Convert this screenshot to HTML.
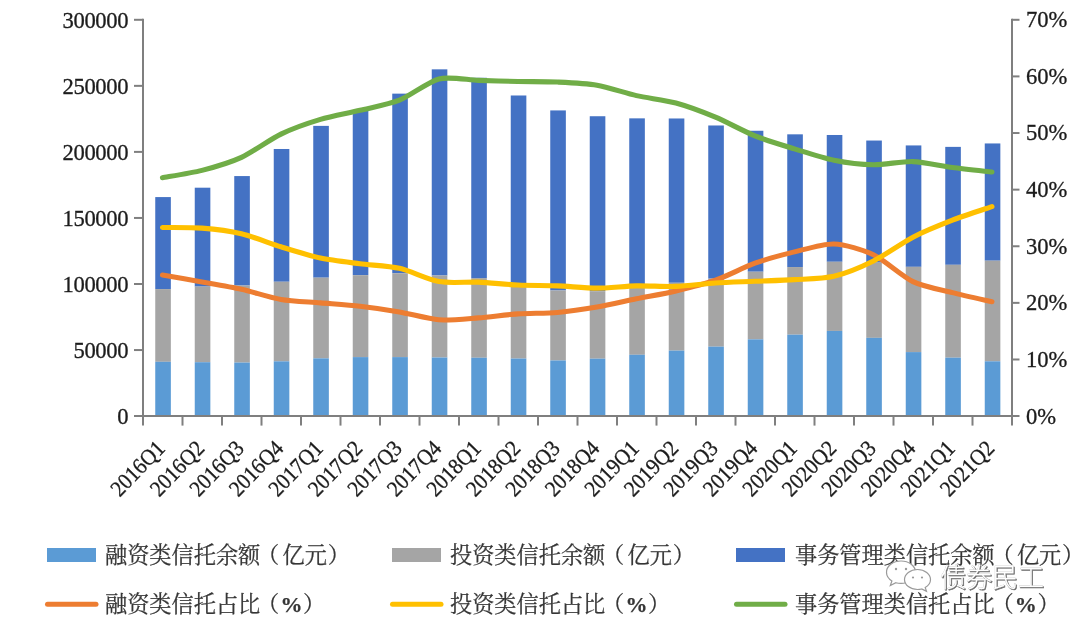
<!DOCTYPE html>
<html lang="zh-CN"><head><meta charset="utf-8"><title>信托资产余额及占比</title>
<style>html,body{margin:0;padding:0;background:#fff;}body{width:1080px;height:626px;position:relative;overflow:hidden;}</style>
</head><body>
<svg width="1080" height="626" viewBox="0 0 1080 626" style="position:absolute;left:0;top:0">
<rect x="155.25" y="197.08" width="15.6" height="91.99" fill="#4472c4"/>
<rect x="155.25" y="289.07" width="15.6" height="72.72" fill="#a5a5a5"/>
<rect x="155.25" y="361.78" width="15.6" height="54.32" fill="#5b9bd5"/>
<rect x="194.75" y="187.70" width="15.6" height="98.90" fill="#4472c4"/>
<rect x="194.75" y="286.60" width="15.6" height="75.60" fill="#a5a5a5"/>
<rect x="194.75" y="362.20" width="15.6" height="53.90" fill="#5b9bd5"/>
<rect x="234.25" y="176.07" width="15.6" height="109.45" fill="#4472c4"/>
<rect x="234.25" y="285.53" width="15.6" height="77.05" fill="#a5a5a5"/>
<rect x="234.25" y="362.57" width="15.6" height="53.53" fill="#5b9bd5"/>
<rect x="273.75" y="148.99" width="15.6" height="132.75" fill="#4472c4"/>
<rect x="273.75" y="281.75" width="15.6" height="79.60" fill="#a5a5a5"/>
<rect x="273.75" y="361.34" width="15.6" height="54.76" fill="#5b9bd5"/>
<rect x="313.25" y="125.88" width="15.6" height="151.79" fill="#4472c4"/>
<rect x="313.25" y="277.66" width="15.6" height="80.68" fill="#a5a5a5"/>
<rect x="313.25" y="358.35" width="15.6" height="57.75" fill="#5b9bd5"/>
<rect x="352.75" y="110.42" width="15.6" height="164.76" fill="#4472c4"/>
<rect x="352.75" y="275.18" width="15.6" height="81.92" fill="#a5a5a5"/>
<rect x="352.75" y="357.10" width="15.6" height="59.00" fill="#5b9bd5"/>
<rect x="392.25" y="93.64" width="15.6" height="179.61" fill="#4472c4"/>
<rect x="392.25" y="273.25" width="15.6" height="83.84" fill="#a5a5a5"/>
<rect x="392.25" y="357.09" width="15.6" height="59.01" fill="#5b9bd5"/>
<rect x="431.75" y="69.34" width="15.6" height="206.15" fill="#4472c4"/>
<rect x="431.75" y="275.49" width="15.6" height="82.01" fill="#a5a5a5"/>
<rect x="431.75" y="357.50" width="15.6" height="58.60" fill="#5b9bd5"/>
<rect x="471.25" y="77.79" width="15.6" height="200.28" fill="#4472c4"/>
<rect x="471.25" y="278.07" width="15.6" height="79.67" fill="#a5a5a5"/>
<rect x="471.25" y="357.74" width="15.6" height="58.36" fill="#5b9bd5"/>
<rect x="510.75" y="95.49" width="15.6" height="189.16" fill="#4472c4"/>
<rect x="510.75" y="284.65" width="15.6" height="73.90" fill="#a5a5a5"/>
<rect x="510.75" y="358.55" width="15.6" height="57.55" fill="#5b9bd5"/>
<rect x="550.25" y="110.42" width="15.6" height="180.05" fill="#4472c4"/>
<rect x="550.25" y="290.47" width="15.6" height="70.00" fill="#a5a5a5"/>
<rect x="550.25" y="360.47" width="15.6" height="55.63" fill="#5b9bd5"/>
<rect x="589.75" y="116.23" width="15.6" height="174.97" fill="#4472c4"/>
<rect x="589.75" y="291.21" width="15.6" height="67.47" fill="#a5a5a5"/>
<rect x="589.75" y="358.68" width="15.6" height="57.42" fill="#5b9bd5"/>
<rect x="629.25" y="118.35" width="15.6" height="168.23" fill="#4472c4"/>
<rect x="629.25" y="286.58" width="15.6" height="68.19" fill="#a5a5a5"/>
<rect x="629.25" y="354.76" width="15.6" height="61.34" fill="#5b9bd5"/>
<rect x="668.75" y="118.48" width="15.6" height="164.29" fill="#4472c4"/>
<rect x="668.75" y="282.77" width="15.6" height="67.86" fill="#a5a5a5"/>
<rect x="668.75" y="350.62" width="15.6" height="65.48" fill="#5b9bd5"/>
<rect x="708.25" y="125.48" width="15.6" height="153.16" fill="#4472c4"/>
<rect x="708.25" y="278.64" width="15.6" height="68.01" fill="#a5a5a5"/>
<rect x="708.25" y="346.64" width="15.6" height="69.46" fill="#5b9bd5"/>
<rect x="747.75" y="130.76" width="15.6" height="140.96" fill="#4472c4"/>
<rect x="747.75" y="271.72" width="15.6" height="67.62" fill="#a5a5a5"/>
<rect x="747.75" y="339.34" width="15.6" height="76.76" fill="#5b9bd5"/>
<rect x="787.25" y="134.33" width="15.6" height="132.71" fill="#4472c4"/>
<rect x="787.25" y="267.04" width="15.6" height="67.62" fill="#a5a5a5"/>
<rect x="787.25" y="334.67" width="15.6" height="81.43" fill="#5b9bd5"/>
<rect x="826.75" y="134.99" width="15.6" height="126.78" fill="#4472c4"/>
<rect x="826.75" y="261.77" width="15.6" height="69.15" fill="#a5a5a5"/>
<rect x="826.75" y="330.92" width="15.6" height="85.18" fill="#5b9bd5"/>
<rect x="866.25" y="140.54" width="15.6" height="122.07" fill="#4472c4"/>
<rect x="866.25" y="262.61" width="15.6" height="75.23" fill="#a5a5a5"/>
<rect x="866.25" y="337.84" width="15.6" height="78.26" fill="#5b9bd5"/>
<rect x="905.75" y="145.43" width="15.6" height="121.40" fill="#4472c4"/>
<rect x="905.75" y="266.82" width="15.6" height="85.26" fill="#a5a5a5"/>
<rect x="905.75" y="352.09" width="15.6" height="64.01" fill="#5b9bd5"/>
<rect x="945.25" y="146.88" width="15.6" height="117.92" fill="#4472c4"/>
<rect x="945.25" y="264.80" width="15.6" height="92.88" fill="#a5a5a5"/>
<rect x="945.25" y="357.68" width="15.6" height="58.42" fill="#5b9bd5"/>
<rect x="984.75" y="143.45" width="15.6" height="117.24" fill="#4472c4"/>
<rect x="984.75" y="260.69" width="15.6" height="100.61" fill="#a5a5a5"/>
<rect x="984.75" y="361.30" width="15.6" height="54.80" fill="#5b9bd5"/>
<g stroke="#7f7f7f" stroke-width="2" fill="none">
<path d="M143.0,18.8 V417.1"/>
<path d="M1012.0,18.8 V417.1"/>
<path d="M134.0,416.1 H1019.5"/>
<path d="M134.0,350.05 H143.0"/>
<path d="M134.0,284.00 H143.0"/>
<path d="M134.0,217.95 H143.0"/>
<path d="M134.0,151.90 H143.0"/>
<path d="M134.0,85.85 H143.0"/>
<path d="M134.0,19.80 H143.0"/>
<path d="M1012.0,359.49 H1019.5"/>
<path d="M1012.0,302.87 H1019.5"/>
<path d="M1012.0,246.26 H1019.5"/>
<path d="M1012.0,189.64 H1019.5"/>
<path d="M1012.0,133.03 H1019.5"/>
<path d="M1012.0,76.41 H1019.5"/>
<path d="M1012.0,19.80 H1019.5"/>
<path d="M143.00,416.1 V425.6"/>
<path d="M182.50,416.1 V425.6"/>
<path d="M222.00,416.1 V425.6"/>
<path d="M261.50,416.1 V425.6"/>
<path d="M301.00,416.1 V425.6"/>
<path d="M340.50,416.1 V425.6"/>
<path d="M380.00,416.1 V425.6"/>
<path d="M419.50,416.1 V425.6"/>
<path d="M459.00,416.1 V425.6"/>
<path d="M498.50,416.1 V425.6"/>
<path d="M538.00,416.1 V425.6"/>
<path d="M577.50,416.1 V425.6"/>
<path d="M617.00,416.1 V425.6"/>
<path d="M656.50,416.1 V425.6"/>
<path d="M696.00,416.1 V425.6"/>
<path d="M735.50,416.1 V425.6"/>
<path d="M775.00,416.1 V425.6"/>
<path d="M814.50,416.1 V425.6"/>
<path d="M854.00,416.1 V425.6"/>
<path d="M893.50,416.1 V425.6"/>
<path d="M933.00,416.1 V425.6"/>
<path d="M972.50,416.1 V425.6"/>
<path d="M1012.00,416.1 V425.6"/>
</g>
<path d="M162.45,275.10 C167.72,276.00 191.42,280.00 201.95,281.89 C212.48,283.78 230.92,286.91 241.45,289.25 C251.98,291.59 270.42,297.63 280.95,299.44 C291.48,301.25 309.92,301.93 320.45,302.84 C330.98,303.74 349.42,305.03 359.95,306.23 C370.48,307.44 388.92,310.08 399.45,311.90 C409.98,313.71 428.42,319.03 438.95,319.82 C449.48,320.61 467.92,318.63 478.45,317.84 C488.98,317.05 507.42,314.59 517.95,313.88 C528.48,313.16 546.92,313.37 557.45,312.46 C567.98,311.56 586.42,308.90 596.95,307.08 C607.48,305.27 625.92,301.03 636.45,298.87 C646.98,296.72 665.42,293.44 675.95,290.95 C686.48,288.46 704.92,283.89 715.45,280.19 C725.98,276.49 744.42,266.98 754.95,263.21 C765.48,259.43 783.92,254.45 794.45,251.88 C804.98,249.32 823.42,243.58 833.95,243.96 C844.48,244.34 862.92,249.70 873.45,254.72 C883.98,259.74 902.42,276.55 912.95,281.61 C923.48,286.66 941.92,289.97 952.45,292.65 C962.98,295.33 986.68,300.50 991.95,301.71" fill="none" stroke="#ed7d31" stroke-width="5.1" stroke-linecap="round" stroke-linejoin="round"/>
<path d="M162.45,227.54 C167.72,227.62 191.42,227.28 201.95,228.11 C212.48,228.94 230.92,231.28 241.45,233.77 C251.98,236.26 270.42,243.54 280.95,246.79 C291.48,250.04 309.92,255.85 320.45,258.11 C330.98,260.38 349.42,262.41 359.95,263.77 C370.48,265.13 388.92,265.93 399.45,268.30 C409.98,270.68 428.42,279.76 438.95,281.61 C449.48,283.46 467.92,281.72 478.45,282.17 C488.98,282.63 507.42,284.51 517.95,285.00 C528.48,285.49 546.92,285.44 557.45,285.85 C567.98,286.27 586.42,288.12 596.95,288.12 C607.48,288.12 625.92,286.08 636.45,285.85 C646.98,285.63 665.42,286.80 675.95,286.42 C686.48,286.04 704.92,283.70 715.45,283.02 C725.98,282.34 744.42,281.78 754.95,281.32 C765.48,280.87 783.92,280.31 794.45,279.63 C804.98,278.95 823.42,278.72 833.95,276.23 C844.48,273.74 862.92,266.15 873.45,260.94 C883.98,255.73 902.42,242.60 912.95,237.17 C923.48,231.73 941.92,224.26 952.45,220.18 C962.98,216.10 986.68,208.40 991.95,206.59" fill="none" stroke="#ffc000" stroke-width="5.1" stroke-linecap="round" stroke-linejoin="round"/>
<path d="M162.45,177.72 C167.72,176.74 191.42,173.08 201.95,170.36 C212.48,167.64 230.92,162.17 241.45,157.34 C251.98,152.51 270.42,139.18 280.95,134.13 C291.48,129.07 309.92,122.58 320.45,119.41 C330.98,116.24 349.42,112.92 359.95,110.35 C370.48,107.78 388.92,104.35 399.45,100.16 C409.98,95.97 428.42,81.57 438.95,78.93 C449.48,76.29 467.92,80.00 478.45,80.34 C488.98,80.68 507.42,81.25 517.95,81.48 C528.48,81.70 546.92,81.55 557.45,82.04 C567.98,82.53 586.42,83.34 596.95,85.16 C607.48,86.97 625.92,93.25 636.45,95.63 C646.98,98.01 665.42,100.12 675.95,102.99 C686.48,105.86 704.92,112.76 715.45,117.14 C725.98,121.52 744.42,131.60 754.95,135.83 C765.48,140.05 783.92,145.60 794.45,148.85 C804.98,152.09 823.42,158.06 833.95,160.17 C844.48,162.28 862.92,164.51 873.45,164.70 C883.98,164.89 902.42,161.21 912.95,161.58 C923.48,161.96 941.92,166.13 952.45,167.53 C962.98,168.93 986.68,171.45 991.95,172.06" fill="none" stroke="#70ad47" stroke-width="5.1" stroke-linecap="round" stroke-linejoin="round"/>
<g font-family="'Liberation Serif', serif" font-size="22.6" fill="#1c1c1c" stroke="#1c1c1c" stroke-width="0.3">
<text x="128.2" y="423.80" text-anchor="end" letter-spacing="-0.35">0</text>
<text x="128.2" y="357.75" text-anchor="end" letter-spacing="-0.35">50000</text>
<text x="128.2" y="291.70" text-anchor="end" letter-spacing="-0.35">100000</text>
<text x="128.2" y="225.65" text-anchor="end" letter-spacing="-0.35">150000</text>
<text x="128.2" y="159.60" text-anchor="end" letter-spacing="-0.35">200000</text>
<text x="128.2" y="93.55" text-anchor="end" letter-spacing="-0.35">250000</text>
<text x="128.2" y="27.50" text-anchor="end" letter-spacing="-0.35">300000</text>
<text x="1026.0" y="423.50">0%</text>
<text x="1026.0" y="366.89">10%</text>
<text x="1026.0" y="310.27">20%</text>
<text x="1026.0" y="253.66">30%</text>
<text x="1026.0" y="197.04">40%</text>
<text x="1026.0" y="140.43">50%</text>
<text x="1026.0" y="83.81">60%</text>
<text x="1026.0" y="27.20">70%</text>
<text transform="translate(166.15,449.6) rotate(-46) scale(0.92,1)" text-anchor="end" x="0" y="0">2016Q1</text>
<text transform="translate(205.65,449.6) rotate(-46) scale(0.92,1)" text-anchor="end" x="0" y="0">2016Q2</text>
<text transform="translate(245.15,449.6) rotate(-46) scale(0.92,1)" text-anchor="end" x="0" y="0">2016Q3</text>
<text transform="translate(284.65,449.6) rotate(-46) scale(0.92,1)" text-anchor="end" x="0" y="0">2016Q4</text>
<text transform="translate(324.15,449.6) rotate(-46) scale(0.92,1)" text-anchor="end" x="0" y="0">2017Q1</text>
<text transform="translate(363.65,449.6) rotate(-46) scale(0.92,1)" text-anchor="end" x="0" y="0">2017Q2</text>
<text transform="translate(403.15,449.6) rotate(-46) scale(0.92,1)" text-anchor="end" x="0" y="0">2017Q3</text>
<text transform="translate(442.65,449.6) rotate(-46) scale(0.92,1)" text-anchor="end" x="0" y="0">2017Q4</text>
<text transform="translate(482.15,449.6) rotate(-46) scale(0.92,1)" text-anchor="end" x="0" y="0">2018Q1</text>
<text transform="translate(521.65,449.6) rotate(-46) scale(0.92,1)" text-anchor="end" x="0" y="0">2018Q2</text>
<text transform="translate(561.15,449.6) rotate(-46) scale(0.92,1)" text-anchor="end" x="0" y="0">2018Q3</text>
<text transform="translate(600.65,449.6) rotate(-46) scale(0.92,1)" text-anchor="end" x="0" y="0">2018Q4</text>
<text transform="translate(640.15,449.6) rotate(-46) scale(0.92,1)" text-anchor="end" x="0" y="0">2019Q1</text>
<text transform="translate(679.65,449.6) rotate(-46) scale(0.92,1)" text-anchor="end" x="0" y="0">2019Q2</text>
<text transform="translate(719.15,449.6) rotate(-46) scale(0.92,1)" text-anchor="end" x="0" y="0">2019Q3</text>
<text transform="translate(758.65,449.6) rotate(-46) scale(0.92,1)" text-anchor="end" x="0" y="0">2019Q4</text>
<text transform="translate(798.15,449.6) rotate(-46) scale(0.92,1)" text-anchor="end" x="0" y="0">2020Q1</text>
<text transform="translate(837.65,449.6) rotate(-46) scale(0.92,1)" text-anchor="end" x="0" y="0">2020Q2</text>
<text transform="translate(877.15,449.6) rotate(-46) scale(0.92,1)" text-anchor="end" x="0" y="0">2020Q3</text>
<text transform="translate(916.65,449.6) rotate(-46) scale(0.92,1)" text-anchor="end" x="0" y="0">2020Q4</text>
<text transform="translate(956.15,449.6) rotate(-46) scale(0.92,1)" text-anchor="end" x="0" y="0">2021Q1</text>
<text transform="translate(995.65,449.6) rotate(-46) scale(0.92,1)" text-anchor="end" x="0" y="0">2021Q2</text>
</g>
<rect x="47" y="548" width="49" height="14" fill="#5b9bd5"/>
<path d="M47.5,604.3 H96" stroke="#ed7d31" stroke-width="5" stroke-linecap="round"/>
<text x="105" y="562.6" font-family="'Liberation Serif','Noto Serif CJK SC',serif" font-size="22.2" fill="#363636" stroke="#363636" stroke-width="0.25">融资类信托余额<tspan dx="-3.3">（</tspan><tspan dx="3.3">亿元</tspan><tspan dx="0.8">）</tspan></text>
<text x="105" y="611.6" font-family="'Liberation Serif','Noto Serif CJK SC',serif" font-size="22.2" fill="#363636" stroke="#363636" stroke-width="0.25">融资类信托占比<tspan dx="-3.3">（</tspan><tspan dx="1.2" font-family="'Liberation Serif',serif" font-weight="bold" font-size="22">%</tspan><tspan dx="0.7">）</tspan></text>
<rect x="392" y="548" width="49" height="14" fill="#a5a5a5"/>
<path d="M392.5,604.3 H441" stroke="#ffc000" stroke-width="5" stroke-linecap="round"/>
<text x="450" y="562.6" font-family="'Liberation Serif','Noto Serif CJK SC',serif" font-size="22.2" fill="#363636" stroke="#363636" stroke-width="0.25">投资类信托余额<tspan dx="-3.3">（</tspan><tspan dx="3.3">亿元</tspan><tspan dx="0.8">）</tspan></text>
<text x="450" y="611.6" font-family="'Liberation Serif','Noto Serif CJK SC',serif" font-size="22.2" fill="#363636" stroke="#363636" stroke-width="0.25">投资类信托占比<tspan dx="-3.3">（</tspan><tspan dx="1.2" font-family="'Liberation Serif',serif" font-weight="bold" font-size="22">%</tspan><tspan dx="0.7">）</tspan></text>
<rect x="736" y="548" width="49" height="14" fill="#4472c4"/>
<path d="M736.5,604.3 H785" stroke="#70ad47" stroke-width="5" stroke-linecap="round"/>
<text x="795" y="562.6" font-family="'Liberation Serif','Noto Serif CJK SC',serif" font-size="22.2" fill="#363636" stroke="#363636" stroke-width="0.25">事务管理类信托余额<tspan dx="-3.3">（</tspan><tspan dx="3.3">亿元</tspan><tspan dx="0.8">）</tspan></text>
<text x="795" y="611.6" font-family="'Liberation Serif','Noto Serif CJK SC',serif" font-size="22.2" fill="#363636" stroke="#363636" stroke-width="0.25">事务管理类信托占比<tspan dx="-3.3">（</tspan><tspan dx="1.2" font-family="'Liberation Serif',serif" font-weight="bold" font-size="22">%</tspan><tspan dx="0.7">）</tspan></text>
<g fill="#fff" stroke="#9a9a9a" stroke-width="1.2">
<path d="M901,561 c-8,0 -14.5,5 -14.5,11.2 c0,3.6 2.1,6.6 5.4,8.7 l-1.6,4.6 l5.6,-2.8 c1.6,0.5 3.3,0.7 5.1,0.7 c8,0 14.5,-5 14.5,-11.2 c0,-6.200 -6.5,-11.2 -14.5,-11.2 z"/>
<path d="M917.5,569.5 c-7.2,0 -13,4.5 -13,10 c0,5.500 5.8,10 13,10 c1.500,0 2.900,-0.200 4.200,-0.500 l4.800,2.400 l-1.300,-3.900 c3.200,-1.800 5.300,-4.700 5.300,-8 c0,-5.500 -5.800,-10 -13,-10 z"/>
</g>
<g fill="#9a9a9a"><circle cx="896" cy="569" r="1.2"/><circle cx="906" cy="569" r="1.2"/><circle cx="913" cy="577.5" r="1.1"/><circle cx="922" cy="577.5" r="1.1"/></g>
<text x="940.9" y="588.3" font-family="'Liberation Sans','Noto Sans CJK SC',sans-serif" font-weight="300" font-size="26" fill="#707070" stroke="#707070" stroke-width="0.7">债券民工</text>
<text x="940" y="587.4" font-family="'Liberation Sans','Noto Sans CJK SC',sans-serif" font-weight="300" font-size="26" fill="#fff" stroke="#b5b5b5" stroke-width="0.5" paint-order="stroke">债券民工</text>
</svg>
</body></html>
